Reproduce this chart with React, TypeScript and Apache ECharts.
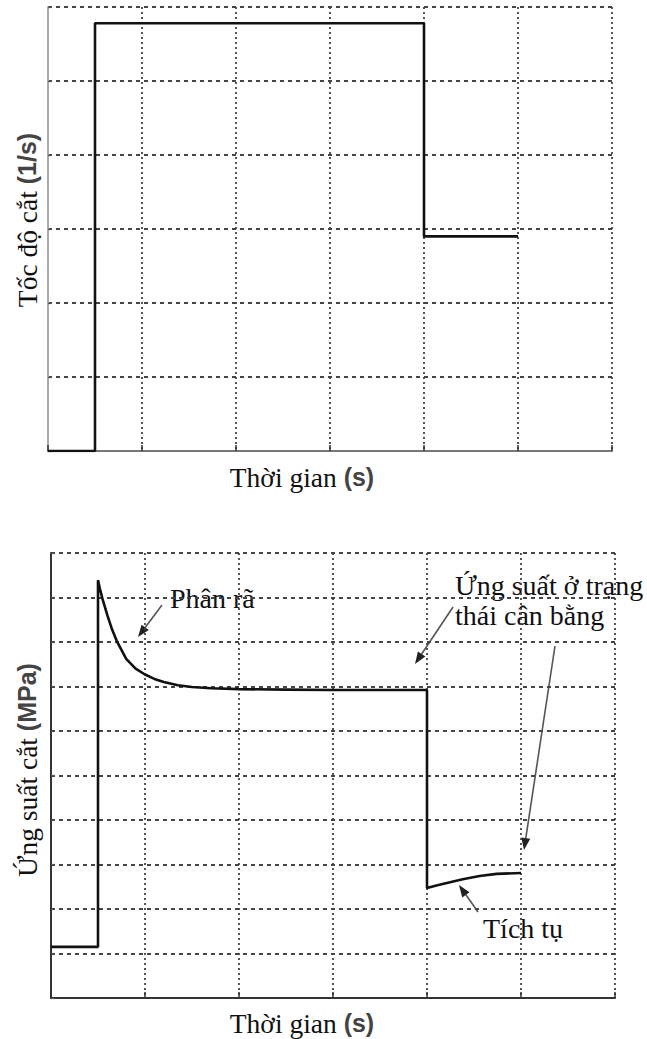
import React, { useEffect, useRef } from "react";
import * as echarts from "echarts";

// Top chart: shear rate step (arbitrary units, 1 per grid cell)
const RATE_TIME = [0, 0.5, 0.5, 4.0, 4.0, 5.0];
const RATE_VALUE = [0, 0, 5.78, 5.78, 2.9, 2.9];

// Bottom chart: shear stress response
const STRESS_TIME = [
  0, 0.5, 0.5, 0.52, 0.55, 0.6, 0.65, 0.7, 0.8, 0.9, 1.0, 1.1, 1.2, 1.35, 1.5,
  1.7, 2.0, 2.5, 3.0, 3.5, 4.0, 4.0, 4.1, 4.2, 4.38, 4.56, 4.74, 5.0,
];
const STRESS_VALUE = [
  1.15, 1.15, 9.39, 9.2, 8.95, 8.6, 8.28, 8.02, 7.62, 7.4, 7.27, 7.17, 7.1,
  7.03, 6.99, 6.96, 6.94, 6.93, 6.92, 6.92, 6.92, 2.47, 2.53, 2.58, 2.67, 2.74,
  2.79, 2.81,
];

const X_LABEL = "Thời gian ";
const X_UNIT = "(s)";
const RATE_LABEL = "Tốc độ cắt ";
const RATE_UNIT = "(1/s)";
const STRESS_LABEL = "Ứng suất cắt ";
const STRESS_UNIT = "(MPa)";
const NOTE_DECAY = "Phân rã";
const NOTE_STEADY = ["Ứng suất ở trạng", "thái cân bằng"];
const NOTE_BUILD = "Tích tụ";

const SERIF = "'Liberation Serif', 'Times New Roman', serif";
const SANS = "'Liberation Sans', Arial, sans-serif";

function arrow(x1: number, y1: number, x2: number, y2: number): any[] {
  const dx = x2 - x1;
  const dy = y2 - y1;
  const len = Math.sqrt(dx * dx + dy * dy);
  const ux = dx / len;
  const uy = dy / len;
  const hl = 12;
  const hw = 4.5;
  const bx = x2 - ux * hl;
  const by = y2 - uy * hl;
  return [
    {
      type: "line",
      shape: { x1, y1, x2: bx, y2: by },
      style: { stroke: "#555", lineWidth: 1.6 },
    },
    {
      type: "polygon",
      shape: {
        points: [
          [x2, y2],
          [bx - uy * hw, by + ux * hw],
          [bx + uy * hw, by - ux * hw],
        ],
      },
      style: { fill: "#222" },
    },
  ];
}

function label(
  x: number,
  y: number,
  main: string,
  unit: string,
  rotate: boolean
): any {
  return {
    type: "text",
    x,
    y,
    rotation: rotate ? Math.PI / 2 : 0,
    style: {
      text: `{a|${main}}{b|${unit}}`,
      align: "center",
      verticalAlign: "middle",
      rich: {
        a: { fontFamily: SERIF, fontSize: 27.5, fill: "#111" },
        b: { fontFamily: SANS, fontSize: 25, fontWeight: "bold", fill: "#444" },
      },
    },
  };
}

function note(x: number, y: number, text: string): any {
  return {
    type: "text",
    x,
    y,
    style: {
      text,
      align: "left",
      verticalAlign: "middle",
      fontFamily: SERIF,
      fontSize: 28,
      fill: "#111",
    },
  };
}

export default function App() {
  const ref = useRef<HTMLDivElement>(null);

  useEffect(() => {
    if (!ref.current) return;
    const chart = echarts.init(ref.current, undefined, { renderer: "svg" });

    const xAxisBase = (gridIndex: number, axisColor: string) => ({
      type: "value",
      gridIndex,
      min: 0,
      max: 6,
      interval: 1,
      axisLabel: { show: false },
      axisLine: { show: true, onZero: false, lineStyle: { color: axisColor, width: 2 } },
      axisTick: { show: true, inside: true, length: 6, lineStyle: { color: "#333", width: 1.5 } },
      splitLine: {
        show: true,
        lineStyle: { color: "#444", width: 1.8, type: [2, 3] },
      },
    });

    const yAxisBase = (gridIndex: number, max: number, axisColor: string) => ({
      type: "value",
      gridIndex,
      min: 0,
      max,
      interval: 1,
      axisLabel: { show: false },
      axisLine: { show: true, onZero: false, lineStyle: { color: axisColor, width: 2 } },
      axisTick: { show: true, inside: true, length: 4, lineStyle: { color: "#555", width: 1.2 } },
      splitLine: {
        show: true,
        lineStyle: { color: "#444", width: 1.8, type: [4, 4] },
      },
    });

    chart.setOption({
      animation: false,
      backgroundColor: "#fff",
      grid: [
        { left: 48, top: 7, width: 564, height: 444 },
        { left: 51, top: 553, width: 564, height: 445 },
      ],
      xAxis: [xAxisBase(0, "#777"), xAxisBase(1, "#333")],
      yAxis: [yAxisBase(0, 6, "#aaa"), yAxisBase(1, 10, "#333")],
      series: [
        {
          type: "line",
          xAxisIndex: 0,
          yAxisIndex: 0,
          data: RATE_TIME.map((t, i) => [t, RATE_VALUE[i]]),
          showSymbol: false,
          symbol: "none",
          lineStyle: { color: "#111", width: 2.6 },
          z: 5,
        },
        {
          type: "line",
          xAxisIndex: 1,
          yAxisIndex: 1,
          data: STRESS_TIME.map((t, i) => [t, STRESS_VALUE[i]]),
          showSymbol: false,
          symbol: "none",
          smooth: false,
          lineStyle: { color: "#111", width: 2.6 },
          z: 5,
        },
      ],
      graphic: [
        label(302, 477, X_LABEL, X_UNIT, false),
        label(302, 1023, X_LABEL, X_UNIT, false),
        label(27, 220, RATE_LABEL, RATE_UNIT, true),
        label(27, 770, STRESS_LABEL, STRESS_UNIT, true),
        note(170, 598, NOTE_DECAY),
        note(455, 585, NOTE_STEADY[0]),
        note(455, 615, NOTE_STEADY[1]),
        note(483, 928, NOTE_BUILD),
        ...arrow(162, 605, 138, 637),
        ...arrow(453, 607, 415, 664),
        ...arrow(555, 646, 524, 850),
        ...arrow(478, 912, 459, 885),
      ],
    });

    return () => chart.dispose();
  }, []);

  return (
    <div
      ref={ref}
      style={{ position: "absolute", left: 0, top: 0, width: 647, height: 1039 }}
    />
  );
}
